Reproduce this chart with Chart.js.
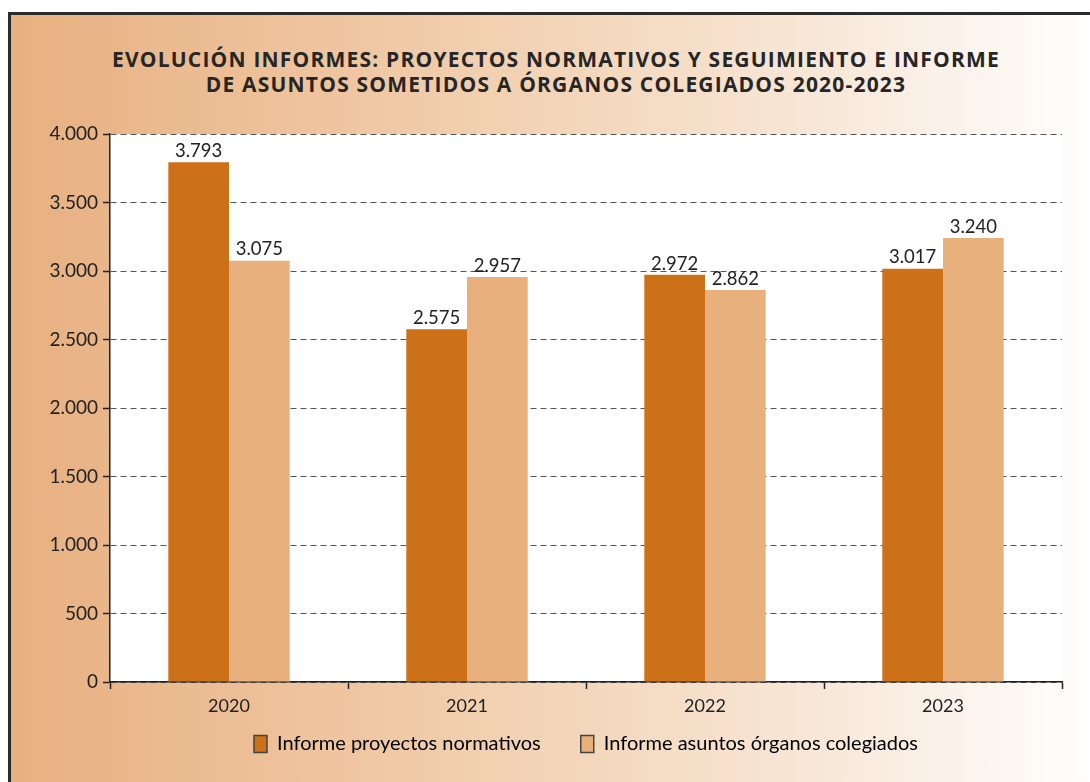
<!DOCTYPE html>
<html lang="es">
<head>
  <meta charset="UTF-8">
  <title>Evolución informes 2020-2023</title>
  <script src="https://cdn.jsdelivr.net/npm/chart.js"></script>
  <style>
    html, body { margin: 0; padding: 0; background: #fff; overflow: hidden; }
    body { width: 1090px; height: 782px; position: relative; font-family: Lato, sans-serif; }
    .card {
      position: absolute; left: 8px; top: 12px; width: 1090px; height: 780px;
      border-top: 3px solid #2b2b2b; border-left: 3px solid #2b2b2b;
      background: linear-gradient(to right, #e7b080 0%, #efc5a0 30%, #f3d5b8 50%, #f8e8d9 75%, #ffffff 100%);
    }
    .titulo {
      position: absolute; left: 0; width: 1112px; top: 47px;
      text-align: center; font-family: "Open Sans", sans-serif; font-weight: bold;
      font-size: 21px; letter-spacing: 1.2px; line-height: 25px; color: #262626;
    }
    canvas { position: absolute; left: 0; top: 0; }
  </style>
</head>
<body>
  <div class="card"></div>
  <div class="titulo">EVOLUCIÓN INFORMES: PROYECTOS NORMATIVOS Y SEGUIMIENTO E INFORME<br>DE ASUNTOS SOMETIDOS A ÓRGANOS COLEGIADOS 2020-2023</div>
  <canvas id="grafico" width="1090" height="782"></canvas>

  <script>
    const anios = ["2020", "2021", "2022", "2023"];
    const proyectosNormativos = [3793, 2575, 2972, 3017];
    const asuntosColegiados = [3075, 2957, 2862, 3240];
    const etiquetasSeries = ["Informe proyectos normativos", "Informe asuntos órganos colegiados"];

    const miles = v => String(v).replace(/\B(?=(\d{3})+(?!\d))/g, ".");

    // fondo blanco del área de trazado
    const fondoArea = {
      id: "fondoArea",
      beforeDraw(chart) {
        const a = chart.chartArea, ctx = chart.ctx;
        ctx.save();
        ctx.fillStyle = "#ffffff";
        ctx.fillRect(a.left, a.top, a.right - a.left, a.bottom - a.top);
        ctx.restore();
      },
      // el eje x es bajo para acercar la leyenda; ampliar su caja para que no recorte los años
      afterLayout(chart) {
        chart.scales.x.bottom += 30;
      }
    };

    // valores encima de cada barra
    const valores = {
      id: "valores",
      afterDatasetsDraw(chart) {
        const ctx = chart.ctx;
        ctx.save();
        ctx.font = "18.5px Lato, sans-serif";
        ctx.fillStyle = "#222";
        ctx.textAlign = "center";
        ctx.textBaseline = "bottom";
        chart.data.datasets.forEach((ds, i) => {
          chart.getDatasetMeta(i).data.forEach((bar, j) => {
            ctx.fillText(miles(ds.data[j]), bar.x, bar.y - 2);
          });
        });
        ctx.restore();
      }
    };

    Chart.defaults.font.family = "Lato, sans-serif";
    Chart.defaults.color = "#222";

    new Chart(document.getElementById("grafico"), {
      type: "bar",
      data: {
        labels: anios,
        datasets: [
          { label: etiquetasSeries[0], data: proyectosNormativos, backgroundColor: "#cd7118" },
          { label: etiquetasSeries[1], data: asuntosColegiados, backgroundColor: "#e8b07d" }
        ]
      },
      options: {
        responsive: false,
        animation: false,
        devicePixelRatio: 1,
        layout: { padding: { top: 134, right: 28, left: 0, bottom: 18 } },
        datasets: { bar: { barPercentage: 1, categoryPercentage: 0.51 } },
        plugins: {
          title: { display: false },
          tooltip: { enabled: false },
          legend: {
            position: "bottom",
            fullSize: false,
            labels: {
              font: { size: 20 },
              color: "#222",
              boxWidth: 13,
              boxHeight: 17,
              padding: 40,
              generateLabels(chart) {
                return chart.data.datasets.map((ds, i) => ({
                  text: ds.label,
                  fillStyle: ds.backgroundColor,
                  strokeStyle: "#444",
                  lineWidth: 1.5,
                  datasetIndex: i
                }));
              }
            }
          }
        },
        scales: {
          x: {
            afterFit(s) { s.height = 12; },
            border: { color: "#222", width: 1.5 },
            grid: { offset: true, drawOnChartArea: false, drawTicks: true, tickLength: 7, tickColor: "#222", tickWidth: 1.5 },
            ticks: { font: { size: 18 }, color: "#222", padding: 6 }
          },
          y: {
            min: 0,
            max: 4000,
            afterFit(s) { s.width = 110; },
            border: { color: "#222", width: 1.5, dash: [6, 4] },
            grid: { color: "#555", lineWidth: 1, tickBorderDash: [], tickColor: "#222", tickLength: 7, tickWidth: 1.5 },
            ticks: { stepSize: 500, font: { size: 19 }, color: "#222", padding: 5, callback: v => miles(v) }
          }
        }
      },
      plugins: [fondoArea, valores]
    });
  </script>
</body>
</html>
